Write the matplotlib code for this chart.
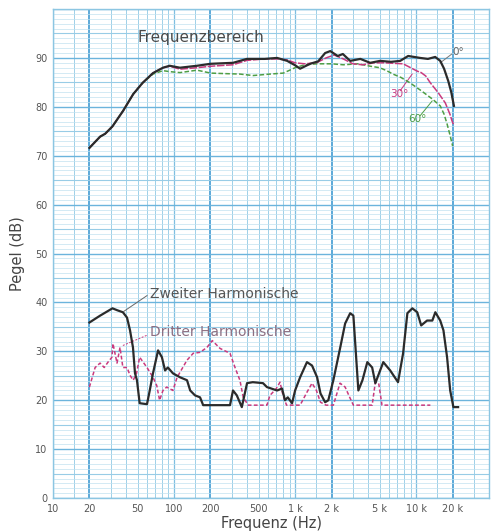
import matplotlib
matplotlib.use("Agg")
import matplotlib.pyplot as plt

# Frequenzgang 0 / 30 / 60 Grad
f0 = [20, 24.5, 27, 31, 38, 46, 55, 67, 81, 92, 112, 155, 200, 307, 400, 560, 710, 860,
      1000, 1100, 1330, 1550, 1770, 1950, 2250, 2480, 2850, 3460, 4170, 5040, 6200, 7380,
      8590, 10800, 12500, 14360, 15800, 17000, 18400, 19500, 20500]
db0 = [71.6, 73.9, 74.5, 76, 79.2, 82.6, 84.9, 86.9, 88.0, 88.4, 88.0, 88.4, 88.8, 89.0,
       89.8, 89.8, 90.0, 89.4, 88.5, 87.8, 88.8, 89.3, 91.0, 91.4, 90.4, 90.8, 89.4, 89.8,
       89.0, 89.4, 89.2, 89.4, 90.4, 90.0, 89.8, 90.2, 89.4, 87.8, 85.3, 83.0, 80.2]

f30 = [20, 24.5, 27, 31, 38, 46, 55, 67, 81, 92, 112, 155, 200, 307, 400, 560, 710, 860,
       1000, 1200, 1500, 1800, 2100, 2500, 3000, 3600, 4500, 5500, 6500, 7800, 9000, 10200,
       11000, 12000, 13100, 15200, 17400, 19000, 19800, 20500]
db30 = [71.6, 73.9, 74.5, 76, 79.2, 82.6, 84.9, 86.9, 88.0, 88.3, 87.7, 88.0, 88.3, 88.6,
        89.5, 89.8, 89.8, 89.6, 89.0, 88.8, 89.0, 90.0, 90.6, 89.8, 88.8, 88.6, 89.0, 89.0,
        88.9, 88.8, 88.0, 87.3, 87.0, 86.3, 84.9, 82.9, 80.8, 78.5, 77.1, 76.2]

f60 = [20, 24.5, 27, 31, 38, 46, 55, 67, 81, 92, 112, 155, 200, 260, 350, 450, 620, 800,
       1000, 1200, 1500, 2000, 2500, 3300, 4200, 5000, 5700, 6430, 7500, 8900, 11000, 13600,
       15800, 17000, 18000, 19000, 20000]
db60 = [71.6, 73.9, 74.5, 76, 79.2, 82.6, 84.9, 86.7, 87.4, 87.2, 87.0, 87.5, 86.9, 86.8,
        86.7, 86.4, 86.7, 86.9, 88.0, 88.6, 88.8, 88.8, 88.6, 88.8, 88.3, 88.0, 87.4, 86.7,
        86.0, 84.9, 83.3, 81.6, 80.2, 78.5, 76.5, 74.3, 72.0]

# Zweite Harmonische
f2 = [20, 24.5, 31, 34, 37.8, 40.9, 43.3, 45.8, 47.6, 49.4, 52, 59.8, 63, 67, 73.8, 79.4,
      84.3, 89, 98, 112, 128, 136, 149, 164, 174, 200, 290, 307, 330, 363, 401, 447, 543,
      585, 710, 780, 825, 870, 944, 1000, 1100, 1253, 1380, 1520, 1620, 1770, 1880, 2070,
      2360, 2590, 2850, 3030, 3330, 3600, 3950, 4330, 4600, 5350, 6100, 7080, 7800, 8460,
      9290, 10200, 11000, 12300, 13600, 14400, 15800, 16800, 18000, 19100, 20300, 22200]
db2 = [35.9, 37.3, 38.8, 38.4, 38.0, 36.9, 34.3, 30.8, 25.5, 24.1, 19.4, 19.2, 22.0, 25.5,
       30.2, 28.8, 26.1, 26.7, 25.5, 24.7, 24.1, 22.0, 21.0, 20.6, 19.0, 19.0, 19.0, 22.0,
       21.0, 18.6, 23.5, 23.7, 23.5, 22.7, 22.0, 22.4, 20.0, 20.6, 19.4, 22.0, 24.7, 27.8,
       27.1, 24.7, 21.4, 19.6, 20.0, 24.1, 30.8, 35.7, 37.8, 37.3, 22.0, 24.1, 27.8, 26.7,
       23.5, 27.8, 26.1, 23.7, 29.6, 37.8, 38.8, 38.0, 35.3, 36.3, 36.3, 38.0, 36.3, 34.3,
       28.8, 22.0, 18.6, 18.6]

# Dritte Harmonische
f3 = [20, 22.3, 24.5, 26.5, 28.5, 30.7, 31.3, 33.8, 35.8, 37.8, 40.9, 43.3, 46, 49, 52,
      59.8, 67, 72, 76, 81, 87, 98, 106, 128, 144, 164, 187, 207, 240, 290, 319, 350, 373,
      410, 585, 620, 700, 750, 795, 850, 1100, 1250, 1380, 1500, 1620, 1800, 2070, 2350,
      2590, 2850, 3030, 4330, 4600, 4900, 5220, 13100]
db3 = [22.7, 26.7, 27.6, 26.7, 27.8, 28.8, 31.6, 27.6, 30.8, 26.7, 26.7, 25.1, 24.1, 25.5,
       28.8, 26.7, 24.7, 23.0, 20.0, 22.0, 22.7, 22.0, 24.7, 28.2, 29.6, 29.8, 30.8, 32.2,
       30.6, 29.6, 26.7, 24.1, 20.6, 19.0, 19.0, 21.0, 22.4, 23.7, 21.0, 19.0, 19.0, 21.6,
       23.5, 22.0, 19.6, 19.0, 19.0, 23.5, 22.7, 20.4, 19.0, 19.0, 23.7, 23.5, 19.0, 19.0]

xticks = [10, 20, 50, 100, 200, 500, 1000, 2000, 5000, 10000, 20000]
xlabels = ["10", "20", "50", "100", "200", "500", "1 k", "2 k", "5 k", "10 k", "20 k"]
yticks = list(range(0, 100, 10))

fig = plt.figure(figsize=(4.95, 5.31), dpi=100)
ax = fig.add_axes([0.107, 0.062, 0.881, 0.921])
ax.set_xscale("log")
ax.set_xlim(10, 40000)
ax.set_ylim(0, 100)

# Millimeterpapier-Raster
for dec in [10, 100, 1000, 10000]:
    for m in [1, 1.5, 2, 3, 4, 5, 6, 7, 8, 9]:
        v = dec * m
        if v > 40000:
            continue
        if m == 2:
            ax.axvline(v, color="#4fa3d6", lw=1.3, zorder=0)
        elif m == 1:
            ax.axvline(v, color="#7fbfe0", lw=0.9, zorder=0)
        else:
            ax.axvline(v, color="#9fd0e8", lw=0.7, zorder=0)
for y in range(0, 101):
    if y % 10 == 0:
        ax.axhline(y, color="#6cb4dc", lw=1.0, zorder=0)
    elif y % 5 == 0:
        ax.axhline(y, color="#98cce6", lw=0.8, zorder=0)
    else:
        ax.axhline(y, color="#c2e2f0", lw=0.5, zorder=0)

for s in ax.spines.values():
    s.set_color("#8cc6e2")
    s.set_linewidth(1.0)

ax.plot(f60, db60, color="#4e9e45", lw=1.1, ls=(0, (3, 1.5)), zorder=3)
ax.plot(f30, db30, color="#c93a7e", lw=1.1, ls=(0, (5, 1)), zorder=4)
ax.plot(f0, db0, color="#2b2b2b", lw=1.6, zorder=5)
ax.plot(f3, db3, color="#c93a7e", lw=1.1, ls=(0, (2.5, 1.5)), zorder=4)
ax.plot(f2, db2, color="#2b2b2b", lw=1.6, zorder=5)

ax.set_xticks(xticks)
ax.set_xticklabels(xlabels)
ax.xaxis.set_minor_locator(matplotlib.ticker.NullLocator())
ax.set_yticks(yticks)
ax.tick_params(axis="both", length=0, labelsize=7, colors="#555555", pad=4)

ax.set_xlabel("Frequenz (Hz)", fontsize=10.5, color="#444444", labelpad=2)
ax.set_ylabel("Pegel (dB)", fontsize=10.5, color="#444444", labelpad=7)

ax.text(167, 94.2, "Frequenzbereich", fontsize=11, color="#4a4a4a", ha="center", va="center")

ax.text(20000, 91.2, "0°", fontsize=7.5, color="#666666", ha="left", va="center")
ax.plot([15800, 19700], [89.0, 90.8], color="#777777", lw=0.7)
ax.text(6100, 82.7, "30°", fontsize=7.5, color="#c93a7e", ha="left", va="center")
ax.plot([7380, 9270], [83.3, 86.7], color="#c93a7e", lw=0.7)
ax.text(8590, 77.6, "60°", fontsize=7.5, color="#4e9e45", ha="left", va="center")
ax.plot([10800, 13550], [78.2, 81.2], color="#4e9e45", lw=0.7)

ax.text(63, 41.8, "Zweiter Harmonische", fontsize=10, color="#555555",
        ha="left", va="center")
ax.plot([38.6, 59.8], [38.2, 41.4], color="#666666", lw=0.7)
ax.text(63, 33.9, "Dritter Harmonische", fontsize=10, color="#8c6f82",
        ha="left", va="center")
ax.plot([37.8, 59.8], [31.2, 33.3], color="#c93a7e", lw=0.7, ls=(0, (2, 1.5)))

fig.savefig("out.png", dpi=100)
